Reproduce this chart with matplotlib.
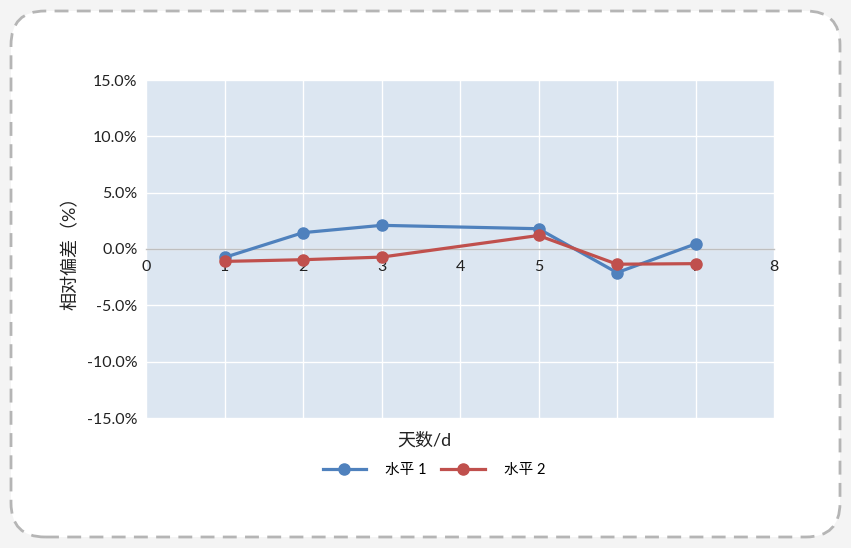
import matplotlib
matplotlib.use("Agg")
import matplotlib.pyplot as plt
from matplotlib.patches import FancyBboxPatch
from matplotlib.ticker import FuncFormatter

plt.rcParams['font.family'] = ['Lato', 'Noto Sans CJK SC', 'DejaVu Sans']

days = [1, 2, 3, 5, 6, 7]
level1 = [-0.75, 1.45, 2.1, 1.8, -2.1, 0.45]
level2 = [-1.1, -0.95, -0.72, 1.2, -1.35, -1.3]
series_names = ['水平 1', '水平 2']
colors = ['#4F81BD', '#C0504D']

fig = plt.figure(figsize=(8.51, 5.48), dpi=100)
fig.patch.set_facecolor('#F4F4F4')
box = FancyBboxPatch((11/851, 11/548), 829/851, 526/548,
                     boxstyle="round,pad=0,rounding_size=0.04",
                     transform=fig.transFigure, facecolor='white',
                     edgecolor='#B5B5B5', linewidth=2, linestyle=(0, (5, 3)),
                     mutation_aspect=851/548, zorder=-5)
fig.patches.append(box)

ax = fig.add_axes([146/851, 1-418/548, 628/851, 338/548])
ax.set_facecolor('#DCE6F1')
ax.set_xlim(0, 8)
ax.set_ylim(-15, 15)
ax.set_xticks(range(0, 9))
ax.set_yticks([-15, -10, -5, 0, 5, 10, 15])
ax.yaxis.set_major_formatter(FuncFormatter(lambda v, p: f"{v:.1f}%"))
ax.grid(True, color='white', linewidth=1)
ax.set_axisbelow(True)
for s in ['top', 'right', 'left']:
    ax.spines[s].set_visible(False)
ax.spines['bottom'].set_position(('data', 0))
ax.spines['bottom'].set_color('#BFBFBF')
ax.spines['bottom'].set_linewidth(1)
ax.tick_params(length=0, labelsize=11.5, colors='#222222', pad=6)
ax.tick_params(axis='x', pad=8)

ax.plot(days, level1, color=colors[0], linewidth=2.3, marker='o', markersize=8, label=series_names[0], zorder=3)
ax.plot(days, level2, color=colors[1], linewidth=2.3, marker='o', markersize=8, label=series_names[1], zorder=3)

ax.set_ylabel('相对偏差（%）', fontsize=13, color='#222222', labelpad=6)
fig.text(424/851, 1-440/548, '天数/d', fontsize=13, color='#222222', ha='center', va='center')

fig.legend(loc='center', bbox_to_anchor=(434/851, 1-470/548), ncol=2, frameon=False,
           fontsize=10.5, handlelength=3, columnspacing=1.0, handletextpad=1.3)

fig.savefig('out.png', dpi=100, facecolor=fig.get_facecolor())
